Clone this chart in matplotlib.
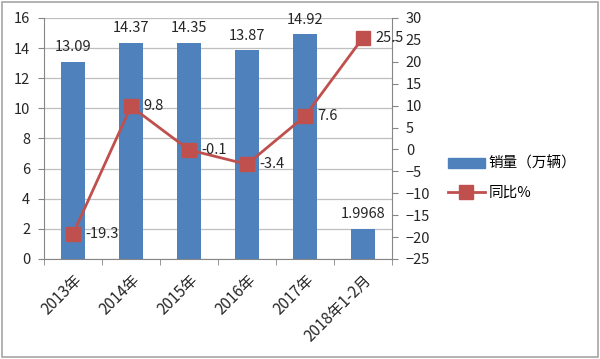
import matplotlib
matplotlib.use("Agg")
import matplotlib.pyplot as plt
from matplotlib.patches import Rectangle

plt.rcParams['font.family'] = ['Noto Sans CJK SC', 'DejaVu Sans']

categories = ["2013年", "2014年", "2015年", "2016年", "2017年", "2018年1-2月"]
sales = [13.09, 14.37, 14.35, 13.87, 14.92, 1.9968]
sales_labels = ["13.09", "14.37", "14.35", "13.87", "14.92", "1.9968"]
yoy = [-19.3, 9.8, -0.1, -3.4, 7.6, 25.5]
yoy_labels = ["-19.3", "9.8", "-0.1", "-3.4", "7.6", "25.5"]

bar_color = "#4f81bd"
line_color = "#c0504d"
fs = 10.5
tc = "#262626"

fig = plt.figure(figsize=(6, 3.59), dpi=100)
fig.patches.append(Rectangle((0.004, 0.006), 0.992, 0.988, transform=fig.transFigure,
                             fill=False, edgecolor="#a6a6a6", linewidth=1.2))
ax = fig.add_axes([0.0733, 0.2786, 0.58, 0.6714])
x = list(range(len(categories)))
ax.bar(x, sales, width=0.4, color=bar_color, zorder=2)
ax.set_ylim(0, 16)
ax.set_yticks(range(0, 17, 2))
ax.set_xlim(-0.5, len(categories) - 0.5)
ax.set_xticks(x)
ax.set_xticklabels(categories, rotation=45, ha="right", rotation_mode="anchor",
                   fontsize=11, color=tc)
ax.set_xticks([i + 0.5 for i in range(-1, len(categories))], minor=True)
ax.tick_params(axis="x", which="major", length=0, pad=9)
ax.tick_params(axis="x", which="minor", length=4, color="#868686")
ax.tick_params(axis="y", length=4, color="#868686", labelsize=fs, pad=6, labelcolor=tc)
ax.grid(axis="y", color="#bfbfbf", linewidth=0.9, zorder=0)
ax.set_axisbelow(True)
for s in ["top", "right"]:
    ax.spines[s].set_visible(False)
ax.spines["left"].set_color("#868686")
ax.spines["bottom"].set_color("#868686")
for xi, v, lab in zip(x, sales, sales_labels):
    ax.text(xi, v + 0.5, lab, ha="center", va="bottom", fontsize=fs, color=tc)

ax2 = ax.twinx()
ax2.plot(x, yoy, color=line_color, linewidth=2, marker="s", markersize=10, zorder=3)
ax2.set_ylim(-25, 30)
ax2.set_yticks(range(-25, 31, 5))
ax2.tick_params(axis="y", length=4, color="#868686", labelsize=fs, pad=6, labelcolor=tc)
for s in ["top", "left", "bottom"]:
    ax2.spines[s].set_visible(False)
ax2.spines["right"].set_color("#868686")
for xi, v, lab in zip(x, yoy, yoy_labels):
    ax2.annotate(lab, (xi, v), xytext=(9, 0), textcoords="offset points",
                 ha="left", va="center", fontsize=fs, color=tc)

h1 = Rectangle((0, 0), 1, 1, color=bar_color)
h2, = ax2.plot([], [], color=line_color, linewidth=2, marker="s", markersize=10)
fig.legend([h1, h2], ["销量（万辆）", "同比%"], loc="upper left",
           bbox_to_anchor=(0.725, 0.6), frameon=False, fontsize=fs,
           handlelength=2.5, labelspacing=1.0, handletextpad=0.3)

fig.savefig("out.png", dpi=100)
